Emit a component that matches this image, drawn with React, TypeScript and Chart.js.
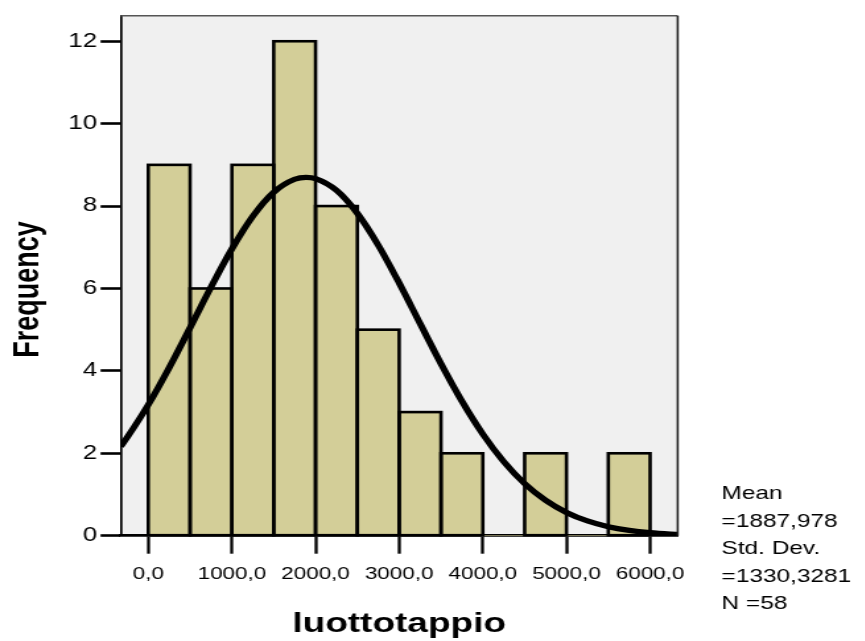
import React, { useEffect, useRef } from 'react';
import { Chart, registerables } from 'chart.js';

Chart.register(...registerables);

// ---- data ----
const BIN_CENTERS = [250, 750, 1250, 1750, 2250, 2750, 3250, 3750, 4250, 4750, 5250, 5750];
const FREQUENCIES = [9, 6, 9, 12, 8, 5, 3, 2, 0, 2, 0, 2];

const CURVE_X = [-330, -250, 0, 250, 500, 750, 1000, 1250, 1500, 1750, 1888, 2000, 2250, 2500, 2750, 3000, 3250, 3500, 3750, 4000, 4250, 4500, 4750, 5000, 5250, 5500, 5750, 6000, 6250, 6330];
const CURVE_Y = [2.166, 2.391, 3.177, 4.075, 5.046, 6.032, 6.96, 7.752, 8.335, 8.65, 8.697, 8.666, 8.381, 7.823, 7.05, 6.132, 5.149, 4.173, 3.265, 2.466, 1.798, 1.265, 0.86, 0.564, 0.357, 0.218, 0.129, 0.073, 0.04, 0.033];

const X_TICKS = [0, 1000, 2000, 3000, 4000, 5000, 6000];
const Y_TICKS = [0, 2, 4, 6, 8, 10, 12];
const X_MIN = -330;
const X_MAX = 6330;
const Y_MAX = 12.62;

const X_TITLE = 'luottotappio';
const Y_TITLE = 'Frequency';
const STATS_LINES = ['Mean', '=1887,978', 'Std. Dev.', '=1330,3281', 'N =58'];

// ---- layout (canvas is stretched horizontally, like the original picture) ----
const STRETCH = 1.32;
const CANVAS_W = 655;
const CANVAS_H = 641;
const FONT = '"Liberation Sans", Arial, sans-serif';
const BAR_DATASET = 1;

const decorPlugin = {
  id: 'decor',
  beforeDraw(chart: any) {
    const { ctx, chartArea } = chart;
    ctx.save();
    ctx.fillStyle = '#f0f0f0';
    ctx.fillRect(chartArea.left, chartArea.top, chartArea.right - chartArea.left, chartArea.bottom - chartArea.top);
    ctx.restore();
  },
  afterDatasetDraw(chart: any, args: any) {
    if (args.index !== BAR_DATASET) return;
    const { ctx } = chart;
    ctx.save();
    ctx.strokeStyle = '#000';
    ctx.lineWidth = 2.6;
    ctx.lineJoin = 'miter';
    args.meta.data.forEach((bar: any, i: number) => {
      if (!FREQUENCIES[i]) return;
      const { x, y, base, width } = bar.getProps(['x', 'y', 'base', 'width'], true);
      ctx.strokeRect(x - width / 2, y, width, base - y);
    });
    ctx.restore();
  },
  afterDraw(chart: any) {
    const { ctx, chartArea } = chart;
    ctx.save();
    // top and right frame
    ctx.strokeStyle = '#555555';
    ctx.lineWidth = 1.6;
    ctx.beginPath();
    ctx.moveTo(chartArea.left, chartArea.top);
    ctx.lineTo(chartArea.right, chartArea.top);
    ctx.stroke();
    ctx.strokeStyle = '#222222';
    ctx.lineWidth = 1.6;
    ctx.beginPath();
    ctx.moveTo(chartArea.right, chartArea.top);
    ctx.lineTo(chartArea.right, chartArea.bottom);
    ctx.stroke();

    // y-axis title
    ctx.fillStyle = '#000';
    ctx.font = `bold 27px ${FONT}`;
    ctx.textAlign = 'center';
    ctx.textBaseline = 'alphabetic';
    ctx.save();
    ctx.translate(29.2, 289.5);
    ctx.rotate(-Math.PI / 2);
    ctx.fillText(Y_TITLE, 0, 0);
    ctx.restore();

    // statistics box
    ctx.font = `18.5px ${FONT}`;
    ctx.textAlign = 'left';
    STATS_LINES.forEach((line, i) => {
      ctx.fillText(line, 546.6, 499 + i * 27.5);
    });
    ctx.restore();
  },
};

export default function App() {
  const ref = useRef<HTMLCanvasElement | null>(null);

  useEffect(() => {
    if (!ref.current) return;
    const chart = new Chart(ref.current, {
      type: 'bar',
      data: {
        datasets: [
          {
            type: 'line',
            data: CURVE_X.map((x, i) => ({ x, y: CURVE_Y[i] })),
            borderColor: '#000',
            borderWidth: 5.2,
            pointRadius: 0,
            cubicInterpolationMode: 'monotone',
            fill: false,
            order: 0,
          } as any,
          {
            type: 'bar',
            data: BIN_CENTERS.map((x, i) => ({ x, y: FREQUENCIES[i] })),
            backgroundColor: '#d3ce98',
            borderWidth: 0,
            barPercentage: 1,
            categoryPercentage: 1,
            order: 1,
          } as any,
        ],
      },
      options: {
        responsive: false,
        animation: false,
        layout: { padding: { left: 0, right: CANVAS_W - 513.4, top: 15.7, bottom: 0 } },
        plugins: { legend: { display: false }, tooltip: { enabled: false } },
        scales: {
          x: {
            type: 'linear',
            position: 'bottom',
            min: X_MIN,
            max: X_MAX,
            offset: false,
            afterBuildTicks: (s: any) => {
              s.ticks = X_TICKS.map((v) => ({ value: v }));
            },
            afterFit: (s: any) => {
              s.height = 105.3;
            },
            grid: {
              offset: false,
              drawOnChartArea: false,
              drawTicks: true,
              tickLength: 18,
              tickWidth: 2.3,
              tickColor: '#000',
            },
            border: { display: true, color: '#000', width: 2.8 },
            ticks: {
              color: '#000',
              font: { family: FONT, size: 17 },
              padding: 10,
              maxRotation: 0,
              autoSkip: false,
              callback: (v: any) => Number(v).toFixed(1).replace('.', ','),
            },
            title: {
              display: true,
              text: X_TITLE,
              color: '#000',
              font: { family: FONT, size: 28, weight: 'bold' },
              padding: 0,
            },
          } as any,
          y: {
            type: 'linear',
            min: 0,
            max: Y_MAX,
            afterBuildTicks: (s: any) => {
              s.ticks = Y_TICKS.map((v) => ({ value: v }));
            },
            afterFit: (s: any) => {
              s.width = 91.4;
            },
            grid: {
              drawOnChartArea: false,
              drawTicks: true,
              tickLength: 15.2,
              tickWidth: 2.6,
              tickColor: '#000',
            },
            border: { display: true, color: '#000', width: 1.7 },
            ticks: {
              color: '#000',
              font: { family: FONT, size: 19.5 },
              padding: 2.7,
              autoSkip: false,
            },
            title: { display: false },
          } as any,
        },
      },
      plugins: [decorPlugin],
    });
    return () => chart.destroy();
  }, []);

  return (
    <div
      style={{
        position: 'fixed',
        left: 0,
        top: 0,
        width: 865,
        height: 641,
        overflow: 'hidden',
        background: '#fff',
      }}
    >
      <canvas
        ref={ref}
        width={CANVAS_W}
        height={CANVAS_H}
        style={{
          display: 'block',
          width: CANVAS_W,
          height: CANVAS_H,
          transform: `scaleX(${STRETCH})`,
          transformOrigin: '0 0',
        }}
      />
    </div>
  );
}
